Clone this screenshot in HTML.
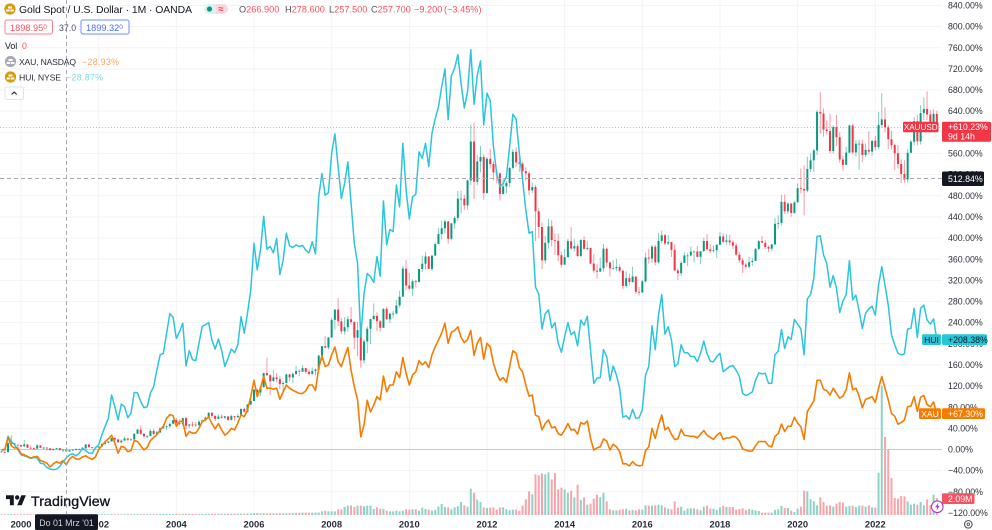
<!DOCTYPE html>
<html lang="en">
<head>
<meta charset="utf-8">
<title>Gold Spot / U.S. Dollar chart</title>
<style>
html,body{margin:0;padding:0;background:#fff;}
body{width:992px;height:530px;overflow:hidden;}
svg{display:block;font-family:"Liberation Sans",sans-serif;filter:blur(0.3px);}
</style>
</head>
<body>
<svg id="chart" width="992" height="530" viewBox="0 0 992 530" xmlns="http://www.w3.org/2000/svg">
  <rect x="0" y="0" width="992" height="530" fill="#ffffff"/>
  <g id="grid"></g>
  <g id="volumeLayer"></g>
  <line x1="0" x2="942" y1="449.5" y2="449.5" stroke="#c8c8d2" stroke-width="1"/>
  <g id="candleLayer"></g>
  <polyline id="huiLine" fill="none" stroke="#2cc5dd" stroke-width="1.5" stroke-linejoin="round"/>
  <polyline id="xauLine" fill="none" stroke="#f57c00" stroke-width="1.6" stroke-linejoin="round"/>
  <line x1="0" x2="942" y1="127.5" y2="127.5" stroke="#f23645" stroke-opacity="0.45" stroke-width="1" stroke-dasharray="1 2"/>
  <line x1="0" x2="942" y1="178.5" y2="178.5" stroke="#a8abb5" stroke-width="1" stroke-dasharray="4 3"/>
  <line x1="66.5" x2="66.5" y1="0" y2="514" stroke="#a8abb5" stroke-width="1" stroke-dasharray="4 3"/>
  <g id="yAxis" font-size="8.8" fill="#2a2e39"></g>
  <g id="xAxis" font-size="9.4" font-weight="bold" fill="#2a2e39" text-anchor="middle"></g>

  <g>
    <path fill="#131722" d="M13.8 505.3H9.9V499.1H6V495.2H13.8ZM21.7 505.3H17.2L21.4 495.2H25.9Z"/>
    <circle cx="17.2" cy="497.5" r="2.2" fill="#131722"/>
    <text x="31" y="506" font-size="14.2" fill="#131722" stroke="#131722" stroke-width="0.35" textLength="79">TradingView</text>
  </g>

  <g>
    <g>
      <circle cx="10" cy="9" r="5.6" fill="#d99a0b"/>
      <rect x="8" y="6.5" width="4" height="2" fill="#fff"/>
      <rect x="6.2" y="9.5" width="3.4" height="2" fill="#fff"/>
      <rect x="10.4" y="9.5" width="3.4" height="2" fill="#fff"/>
    </g>
    <text x="19" y="13" font-size="10.4" fill="#131722" textLength="173">Gold Spot / U.S. Dollar · 1M · OANDA</text>
    <g>
      <path d="M209 4h7v10h-7a5 5 0 0 1 0-10z" fill="#dcf2ee"/>
      <path d="M216 4h7a5 5 0 0 1 0 10h-7z" fill="#fbd7dd"/>
      <circle cx="209.5" cy="9" r="2.6" fill="#089981"/>
      <text x="221" y="12" font-size="9" font-weight="bold" fill="#f23645" text-anchor="middle">≈</text>
    </g>
    <g font-size="9.2" fill="#f7525f">
      <text x="239" y="12.5"><tspan fill="#50535e">O</tspan>266.900</text>
      <text x="285" y="12.5"><tspan fill="#50535e">H</tspan>278.600</text>
      <text x="329" y="12.5"><tspan fill="#50535e">L</tspan>257.500</text>
      <text x="371" y="12.5"><tspan fill="#50535e">C</tspan>257.700</text>
      <text x="414" y="12.5">−9.200</text>
      <text x="444" y="12.5">(−3.45%)</text>
    </g>
    <g>
      <rect x="5" y="20" width="47.5" height="14" rx="2" fill="#fff" stroke="#f7808c" stroke-width="1"/>
      <text x="10" y="31" font-size="9.2" fill="#f7525f">1898.95<tspan font-size="6.5" dy="-2">0</tspan></text>
    </g>
    <text x="59" y="31" font-size="8.8" fill="#50535e">37.0</text>
    <g>
      <rect x="81" y="20" width="48" height="14" rx="2" fill="#fff" stroke="#6f8dfb" stroke-width="1"/>
      <text x="86" y="31" font-size="9.2" fill="#4c6ef5">1899.32<tspan font-size="6.5" dy="-2">0</tspan></text>
    </g>
    <text x="5" y="49" font-size="8.8" fill="#131722">Vol</text>
    <text x="22" y="49" font-size="8.8" fill="#f7525f">0</text>
    <g>
      <circle cx="10.5" cy="61.5" r="5.6" fill="#a8abb5"/>
      <rect x="8.5" y="59" width="4" height="2" fill="#fff"/>
      <rect x="6.7" y="62" width="3.4" height="2" fill="#fff"/>
      <rect x="10.9" y="62" width="3.4" height="2" fill="#fff"/>
    </g>
    <text x="19" y="65" font-size="8.6" fill="#2a2e39" textLength="57">XAU, NASDAQ</text>
    <text x="82" y="65" font-size="8.8" fill="#ffa45e" textLength="37">−28.93%</text>
    <g>
      <circle cx="10.5" cy="77" r="5.6" fill="#d99a0b"/>
      <rect x="8.5" y="74.5" width="4" height="2" fill="#fff"/>
      <rect x="6.7" y="77.5" width="3.4" height="2" fill="#fff"/>
      <rect x="10.9" y="77.5" width="3.4" height="2" fill="#fff"/>
    </g>
    <text x="19" y="80.5" font-size="8.7" fill="#2a2e39" textLength="42">HUI, NYSE</text>
    <text x="66" y="80.5" font-size="8.8" fill="#7ddce9" textLength="37">−28.87%</text>
    <g>
      <rect x="5" y="87" width="18.5" height="12.5" rx="2" fill="#fff" stroke="#e0e3eb" stroke-width="1"/>
      <path d="M11.7 94.5l2.5-2.5 2.5 2.5" fill="none" stroke="#131722" stroke-width="1"/>
    </g>
  </g>

  <g>
    <rect x="903" y="121.7" width="35.5" height="10.6" rx="1.5" fill="#f23645"/>
    <text x="920.7" y="130" font-size="8.1" fill="#fff" text-anchor="middle">XAUUSD</text>
  </g>
  <g>
    <rect x="942" y="121.7" width="49" height="20" rx="1.5" fill="#f23645"/>
    <text x="948" y="130" font-size="8.8" fill="#fff">+610.23%</text>
    <text x="948" y="139.3" font-size="8.8" fill="#fff">9d 14h</text>
  </g>
  <g>
    <rect x="942" y="171.5" width="42" height="14.5" rx="1.5" fill="#131722"/>
    <text x="948" y="182" font-size="8.8" fill="#fff">512.84%</text>
  </g>
  <g>
    <rect x="922" y="334.3" width="19" height="10.7" rx="1.5" fill="#26c6da"/>
    <text x="931.5" y="342.8" font-size="8.6" fill="#131722" text-anchor="middle">HUI</text>
  </g>
  <g>
    <rect x="942" y="334.3" width="45" height="10.7" rx="1.5" fill="#26c6da"/>
    <text x="948" y="342.8" font-size="8.8" fill="#131722">+208.38%</text>
  </g>
  <g>
    <rect x="919" y="408.3" width="22" height="10.7" rx="1.5" fill="#f57c00"/>
    <text x="930" y="416.8" font-size="8.6" fill="#fff" text-anchor="middle">XAU</text>
  </g>
  <g>
    <rect x="942" y="408.3" width="43" height="10.7" rx="1.5" fill="#f57c00"/>
    <text x="948" y="416.8" font-size="8.8" fill="#fff">+67.30%</text>
  </g>
  <g>
    <rect x="942" y="493.3" width="32.5" height="10.7" rx="1.5" fill="#f7525f"/>
    <text x="948" y="501.8" font-size="8.8" fill="#fff">2.09M</text>
  </g>
  <g>
    <circle cx="937.3" cy="506.7" r="5.8" fill="#fff" stroke="#a63cc4" stroke-width="1.1"/>
    <path d="M938.3 502.8l-3.2 4.5h2l-.6 3.2 3.2-4.6h-2z" fill="#a63cc4"/>
  </g>
  <g>
    <rect x="35" y="514.3" width="63" height="15.7" rx="1.5" fill="#131722"/>
    <text x="66.5" y="526" font-size="8.8" fill="#d1d4dc" text-anchor="middle">Do 01 Mrz '01</text>
  </g>
  <g fill="none" stroke="#50535e">
    <circle cx="968.3" cy="524.3" r="3.8" stroke-width="1.1"/>
    <circle cx="968.3" cy="524.3" r="1.3" stroke-width="0.9"/>
  </g>
</svg>

<script>
// Candle data (USD per ounce), monthly from Jul 1999 to Aug 2023. Open = previous close.
const firstOpen = 258;
const closes = [255,254,299,299,292,290,
283,293,276,274,272,288,276,277,273,264,270,274,
265,266.9,257.7,264,266,270,266,273,293,279,275,277,
282,296,302,308,326,318,304,312,323,317,318,347,
368,347,334,336,361,346,354,375,385,385,398,416,
400,396,426,388,394,393,391,408,415,428,453,438,
422,434,428,435,417,436,430,437,473,459,495,513,
570,556,582,654,643,613,632,623,599,604,647,632,
650,664,661,679,660,650,665,672,743,790,783,834,
923,975,916,865,886,926,912,833,871,718,814,878,
927,943,916,883,979,926,954,955,996,1040,1182,1097,
1081,1118,1115,1180,1207,1244,1181,1248,1307,1357,1386,1421,
1333,1411,1439,1536,1536,1502,1628,1825,1622,1724,1747,1564,
1738,1711,1669,1664,1560,1598,1615,1692,1773,1719,1713,1675,
1664,1578,1595,1472,1393,1224,1313,1396,1327,1323,1250,1202,
1240,1321,1284,1296,1246,1327,1282,1287,1208,1172,1167,1184,
1283,1213,1183,1184,1190,1172,1095,1134,1115,1142,1065,1061,
1118,1238,1233,1293,1214,1322,1351,1309,1316,1277,1173,1159,
1211,1249,1249,1268,1269,1242,1270,1322,1280,1271,1275,1303,
1345,1318,1325,1315,1299,1253,1224,1202,1192,1215,1221,1282,
1321,1313,1292,1283,1305,1409,1413,1520,1472,1511,1464,1517,
1589,1585,1577,1686,1730,1780,1975,1967,1886,1878,1777,1898,
1847,1734,1707,1769,1906,1770,1814,1814,1757,1783,1774,1829,
1797,1909,1937,1897,1837,1807,1766,1711,1661,1633,1768,1824,
1928,1826,1969,1990,1962,1919,1965,1899];
const highs = [262,260,308,339,300,292,
292,316,295,288,280,294,289,281,279,275,273,276,
274,269,278.6,266,270,274,272,280,294,294,280,281,
283,297,304,310,327,328,323,319,332,326,323,350,
372,389,352,340,370,372,362,378,395,391,399,417,
427,420,429,433,398,409,407,418,419,435,456,456,
432,445,447,437,431,443,434,448,474,478,497,541,
573,575,590,655,732,650,670,655,640,612,651,650,
657,690,674,694,680,672,682,678,744,790,842,836,
932,976,1033,933,936,943,988,916,913,904,824,890,
930,1006,961,923,981,990,960,968,1024,1070,1195,1226,
1161,1128,1126,1181,1248,1265,1212,1250,1315,1388,1425,1431,
1423,1412,1447,1575,1577,1556,1632,1912,1920,1757,1803,1761,
1745,1790,1726,1676,1668,1640,1627,1695,1787,1796,1754,1722,
1695,1675,1617,1606,1488,1416,1348,1434,1428,1361,1361,1268,
1280,1333,1392,1331,1307,1332,1345,1323,1287,1255,1207,1238,
1307,1288,1220,1224,1232,1204,1174,1168,1157,1191,1142,1088,
1124,1263,1283,1303,1303,1362,1375,1358,1352,1318,1306,1183,
1220,1264,1261,1295,1270,1297,1270,1339,1357,1306,1299,1306,
1366,1361,1356,1353,1326,1310,1266,1236,1214,1243,1237,1287,
1326,1347,1324,1300,1305,1439,1453,1555,1557,1518,1514,1524,
1612,1689,1704,1748,1765,1789,1984,2075,1992,1933,1966,1908,
1959,1871,1755,1798,1912,1916,1832,1834,1835,1814,1877,1830,
1853,1975,2070,1998,1909,1879,1814,1807,1735,1730,1786,1833,
1949,1960,2009,2048,2079,1984,1987,1980];
const lows = [251,250,254,290,286,278,
279,281,274,270,265,270,275,270,262,263,264,268,
260,255,257.5,256,263,263,264,263,272,277,272,273,
276,282,288,300,307,310,302,300,312,311,315,317,
347,341,322,326,335,341,343,350,373,367,377,393,
388,391,387,371,375,382,382,383,403,411,425,427,
411,421,424,421,414,415,413,430,434,456,456,490,
514,540,538,583,640,543,611,607,574,560,602,613,
602,643,637,661,651,642,643,642,671,717,780,772,
833,874,892,850,849,863,900,775,740,681,701,755,
801,920,867,863,883,922,908,933,952,985,1045,1075,
1075,1045,1088,1114,1165,1177,1180,1172,1245,1316,1330,1361,
1309,1326,1385,1422,1462,1478,1480,1605,1534,1604,1668,1531,
1564,1688,1628,1613,1527,1556,1563,1594,1684,1697,1672,1636,
1626,1555,1565,1322,1338,1180,1208,1283,1294,1251,1221,1187,
1222,1240,1278,1268,1240,1240,1280,1273,1205,1161,1132,1171,
1168,1192,1142,1178,1170,1162,1077,1086,1098,1111,1054,1046,
1061,1111,1208,1211,1199,1207,1311,1301,1302,1241,1171,1124,
1146,1216,1195,1244,1214,1238,1205,1269,1272,1260,1264,1236,
1302,1307,1303,1301,1281,1246,1211,1160,1180,1183,1196,1221,
1276,1311,1281,1266,1269,1300,1383,1400,1459,1459,1445,1460,
1517,1562,1451,1568,1670,1671,1757,1863,1849,1860,1765,1765,
1802,1717,1677,1707,1766,1761,1750,1684,1722,1746,1759,1753,
1780,1786,1895,1872,1787,1785,1680,1688,1615,1617,1616,1765,
1805,1805,1810,1934,1933,1893,1901,1884];
// Volume per month, millions.
const volumes = [.08,.08,.1,.12,.1,.08,.1,.1,.1,.09,.08,.08,
.08,.08,.08,.08,.1,.08,.08,.08,.09,.08,.08,.08,
.08,.08,.09,.09,.09,.08,.1,.1,.09,.09,.1,.09,
.09,.09,.09,.09,.1,.1,.1,.09,.1,.1,.1,.1,
.1,.12,.12,.12,.12,.12,.15,.12,.13,.13,.12,.12,
.12,.12,.12,.13,.13,.13,.14,.14,.14,.14,.14,.14,
.15,.15,.15,.16,.16,.18,.24,.24,.2,.2,.2,.2,
.2,.2,.22,.2,.2,.2,.22,.25,.27,
.29,.29,.29,.29,.29,.29,.45,.53,.45,.45,
.45,.70,.70,.98,1.15,1.19,.98,1.15,1.15,1.07,
1.15,1.15,.74,.94,.78,.74,.53,.45,.45,.53,
.45,.53,.70,.66,.70,.70,.53,.90,.74,.66,
.53,.62,1.03,1.35,.98,.94,.70,.94,1.07,1.60,
1.19,1.03,3.24,2.75,1.89,1.60,.94,.86,.90,.94,
.66,.94,.94,.70,.57,.66,.66,.53,1.15,1.93,
2.91,2.54,5.0,4.88,5.13,5.0,5.25,4.39,5.17,3.16,
3.36,3.16,2.75,2.99,2.17,3.73,1.85,2.17,1.27,1.39,
2.01,2.5,2.17,2.75,1.68,.70,.57,.57,
.66,.70,.78,.57,.62,.57,.70,.66,1.19,1.15,
1.15,1.19,1.27,1.19,.94,.78,.70,1.68,.90,1.03,
.53,.78,.82,.82,.70,.57,1.03,1.15,.78,.78,
.62,.94,1.15,.98,.98,.98,.66,.74,.82,.62,
.74,.66,.57,.49,.29,.29,.29,.29,.62,.70,
1.11,.86,.86,.53,.37,.78,1.03,2.99,2.91,1.93,
1.68,1.19,2.17,1.6,1.15,1.19,1.03,1.39,1.6,1.52,
1.03,1.11,1.15,.98,1.15,1.15,1.03,1.19,.94,.90,
5.2,15.9,9.6,8.1,4.55,2.09,2.0,2.34,2.3,1.68,1.27,1.39,1.27,1.6,1.19,1.89,1.2,2.5,2.09];
// Comparison series, percent change from start.
const huiValues = [-1,-1,25,15,9,0,
-10,-12,-14,-17,-15,-16,-26,-27,-34,-37,-38,-37,
-32,-23,-16,-10,-8,-12,-7,3,-2,-7,-7,3,
9,28,44,59,103,81,56,86,81,60,69,108,
107,91,79,81,107,119,151,179,182,220,257,250,
210,223,239,158,187,170,168,201,233,236,240,207,
190,209,188,157,173,190,183,198,251,220,258,302,
390,340,377,441,379,384,372,399,331,358,409,385,
382,387,384,386,377,372,393,370,478,522,481,486,
560,597,535,475,503,544,466,390,352,213,295,333,
327,316,365,328,470,387,416,412,500,459,579,491,
436,478,483,563,551,579,535,598,626,648,686,720,
624,707,721,747,692,646,677,756,653,708,735,614,
674,660,573,522,497,503,516,573,634,625,560,510,
453,409,412,307,294,228,257,264,230,240,201,184,
213,240,217,223,196,245,235,252,188,125,135,136,
189,176,130,158,141,116,61,64,57,76,59,60,
75,141,157,234,189,254,293,218,232,207,157,162,
198,183,183,176,176,166,182,205,182,167,166,176,
182,147,152,157,159,150,138,106,102,105,109,131,
145,143,144,125,125,179,186,227,191,213,208,246,
237,228,179,285,293,324,403,404,368,352,307,329,
305,259,281,293,357,283,292,262,229,258,266,271,
254,311,346,311,273,217,198,182,179,181,228,229,
267,212,267,273,245,237,247,208];
const xauValues = [0,0,23,7,3,3,
-8,-10,-13,-16,-14,-13,-21,-23,-26,-33,-27,-23,
-26,-21,-29,-18,-13,-18,-18,-14,-12,-16,-19,-14,
0,7,15,20,27,12,-7,6,4,-4,-2,17,
15,7,-1,4,17,23,28,37,44,59,66,64,
44,53,53,25,34,31,31,40,53,56,62,49,
39,49,37,27,32,40,37,50,66,62,75,100,
131,100,116,138,116,116,114,116,95,109,122,116,
112,109,106,106,111,122,122,112,154,177,157,160,
179,194,166,157,176,193,150,119,94,24,46,93,
71,84,100,94,139,109,122,122,147,136,174,144,
122,141,147,168,160,166,155,179,194,207,220,239,
201,222,225,232,212,202,208,225,178,201,212,171,
201,194,163,144,131,136,127,157,187,182,155,147,
122,101,103,65,62,37,49,56,41,43,30,27,
37,49,37,38,29,51,48,54,21,-1,3,5,
20,16,-1,10,5,-4,-27,-27,-31,-23,-29,-31,
-30,-2,5,40,21,46,65,37,42,29,19,20,
38,27,26,25,25,22,29,36,27,23,19,27,
32,19,22,22,25,23,16,1,-1,-3,-3,7,
15,15,15,7,5,25,30,48,34,44,44,61,
50,43,19,72,82,92,131,131,114,111,103,116,
106,97,101,113,145,113,116,101,79,95,97,100,
89,116,138,116,94,68,63,48,51,56,81,82,
100,72,99,102,85,81,90,67];
const yTickValues = [840,800,760,720,680,640,600,560,520,480,440,400,360,320,280,240,200,160,120,80,40,0,-40,-80,-120];
const xTickYears = [2000,2002,2004,2006,2008,2010,2012,2014,2016,2018,2020,2022];
const basePrice = 267.4;
const firstYear = 2000;
const monthsBeforeFirstYear = 6;

const NS = 'http://www.w3.org/2000/svg';
function xOfIndex(i){ return 21 + 3.236 * (i - monthsBeforeFirstYear); }
function xOfYear(y){ return xOfIndex((y - firstYear) * 12 + monthsBeforeFirstYear); }
function yOfPct(p){ return 449.5 - p * 0.5287; }
function yOfPrice(v){ return yOfPct((v / basePrice - 1) * 100); }
function yOfVolume(v){ return 515 - v * 8.13; }
function make(tag, attrs, parent){
  const el = document.createElementNS(NS, tag);
  for (const k in attrs) el.setAttribute(k, attrs[k]);
  parent.appendChild(el);
  return el;
}
function pctLabel(p){ return (p < 0 ? '\u2212' + Math.abs(p) : p) + '.00%'; }

const grid = document.getElementById('grid');
const yAxis = document.getElementById('yAxis');
const xAxis = document.getElementById('xAxis');
yTickValues.forEach(function(p){
  const y = yOfPct(p);
  const line = make('line', {x1:0, x2:942, y1:y, y2:y, stroke:'#f2f3f7', 'stroke-width':1}, grid);
  
  
  const label = make('text', {x:948, y:y + 3.1}, yAxis);
  
  
  label.textContent = pctLabel(p);
});
xTickYears.forEach(function(yr){
  const x = xOfYear(yr);
  const line = make('line', {x1:x, x2:x, y1:0, y2:515, stroke:'#f2f3f7', 'stroke-width':1}, grid);
  
  
  const label = make('text', {x:x, y:527.5}, xAxis);
  
  
  label.textContent = String(yr);
});

const volumeLayer = document.getElementById('volumeLayer');
const candleLayer = document.getElementById('candleLayer');
closes.forEach(function(c, i){
  const o = i === 0 ? firstOpen : closes[i - 1];
  const up = c >= o;
  const x = xOfIndex(i);
  const color = up ? '#089981' : '#f23645';
  const vt = yOfVolume(volumes[i]);
  const bar = make('rect', {x:x - 1, y:vt, width:2, height:515 - vt, fill:up ? '#8dd2c6' : '#f9a4aa'}, volumeLayer);
  
  
  const wick = make('line', {x1:x, x2:x, y1:yOfPrice(highs[i]), y2:yOfPrice(lows[i]), stroke:color, 'stroke-opacity':0.5, 'stroke-width':1}, candleLayer);
  
  
  const top = yOfPrice(Math.max(o, c));
  const bottom = yOfPrice(Math.min(o, c));
  const body = make('rect', {x:x - 1, y:top, width:2, height:Math.max(bottom - top, 0.8), fill:color}, candleLayer);
  
  
});

function linePoints(values){
  return values.map(function(v, i){ return xOfIndex(i).toFixed(2) + ',' + yOfPct(v).toFixed(2); }).join(' ');
}
document.getElementById('huiLine').setAttribute('points', linePoints(huiValues));
document.getElementById('xauLine').setAttribute('points', linePoints(xauValues));
</script>
</body>
</html>
